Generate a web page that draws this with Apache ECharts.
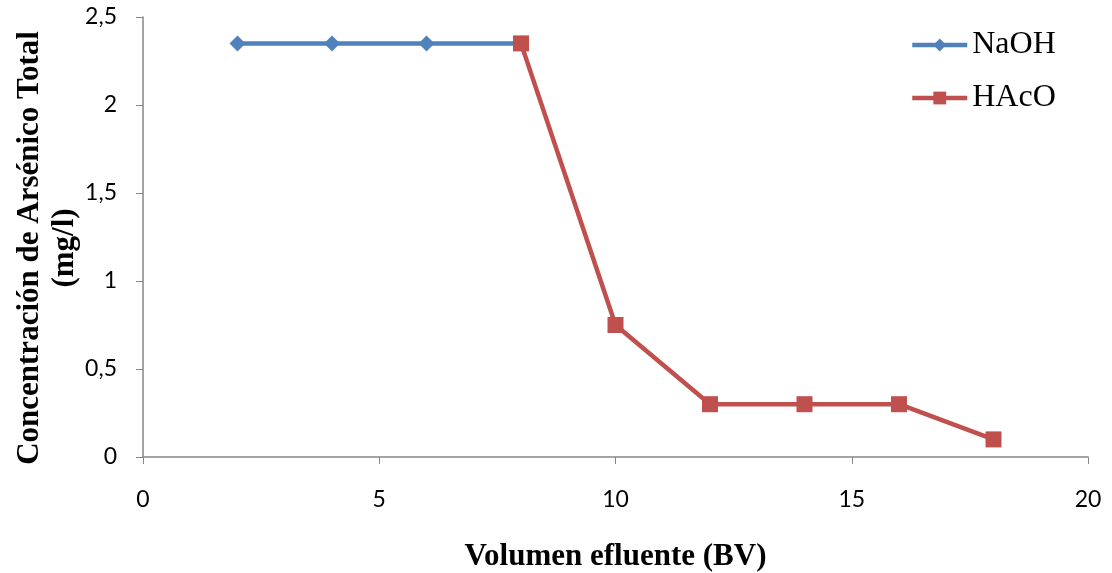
<!DOCTYPE html>
<html>
<head>
<meta charset="utf-8">
<script src="https://cdn.jsdelivr.net/npm/echarts@6/dist/echarts.min.js"></script>
<style>
  html, body { margin: 0; padding: 0; background: #ffffff; }
  #chart { width: 1112px; height: 573px; }
</style>
</head>
<body>
<div id="chart"></div>
<script>
// Volumen de efluente (BV) y concentración de arsénico total (mg/l)
const naohBV = [2, 4, 6, 8];
const naohConc = [2.35, 2.35, 2.35, 2.35];
const hacoBV = [8, 10, 12, 14, 16, 18];
const hacoConc = [2.35, 0.75, 0.3, 0.3, 0.3, 0.1];

const seriesNames = ['NaOH', 'HAcO'];
const xTitle = 'Volumen efluente (BV)';
const yTitle = 'Concentración de Arsénico Total\n(mg/l)';

const axisGray = '#868686';
const labelFont = 'Lato, "Open Sans", sans-serif';
const serifFont = '"Liberation Serif", "DejaVu Serif", serif';

function pairs(xs, ys) {
  return xs.map((x, i) => [x, ys[i]]);
}

const chart = echarts.init(document.getElementById('chart'), null, { renderer: 'canvas' });

chart.setOption({
  animation: false,
  backgroundColor: '#ffffff',
  grid: { left: 143, right: 24, top: 17, bottom: 116, containLabel: false, outerBoundsMode: 'none' },
  legend: {
    orient: 'vertical',
    left: 905,
    top: 24,
    itemWidth: 55,
    itemHeight: 16,
    itemGap: 21,
    lineStyle: { width: 4.5 },
    textStyle: { fontFamily: serifFont, fontSize: 32, color: '#000000' },
    data: seriesNames
  },
  // y-axis title, two centred lines rotated beside the axis
  graphic: [{
    type: 'text',
    x: 47,
    y: 248,
    rotation: Math.PI / 2,
    style: {
      text: yTitle,
      fontFamily: serifFont,
      fontSize: 31,
      fontWeight: 'bold',
      fill: '#000000',
      lineHeight: 35,
      align: 'center',
      verticalAlign: 'middle'
    }
  }],
  xAxis: {
    type: 'value',
    min: 0,
    max: 20,
    interval: 5,
    name: xTitle,
    nameLocation: 'middle',
    nameGap: 84,
    nameTextStyle: { fontFamily: serifFont, fontSize: 31, fontWeight: 'bold', color: '#000000' },
    axisLine: { show: true, lineStyle: { color: axisGray, width: 1.5 } },
    axisTick: { show: true, inside: false, length: 7, lineStyle: { color: axisGray, width: 1 } },
    axisLabel: { fontFamily: labelFont, fontSize: 23, color: '#000000', margin: 31 },
    splitLine: { show: false }
  },
  yAxis: {
    type: 'value',
    min: 0,
    max: 2.5,
    interval: 0.5,
    axisLine: { show: true, lineStyle: { color: axisGray, width: 1.5 } },
    axisTick: { show: true, inside: false, length: 7, lineStyle: { color: axisGray, width: 1 } },
    axisLabel: {
      fontFamily: labelFont,
      fontSize: 23,
      color: '#000000',
      margin: 26,
      formatter: v => String(v).replace('.', ',')
    },
    splitLine: { show: false }
  },
  series: [
    {
      name: seriesNames[0],
      type: 'line',
      data: pairs(naohBV, naohConc),
      symbol: 'diamond',
      symbolSize: 16,
      showAllSymbol: true,
      lineStyle: { color: '#4F81BD', width: 4.5 },
      itemStyle: { color: '#4F81BD' },
      z: 2
    },
    {
      name: seriesNames[1],
      type: 'line',
      data: pairs(hacoBV, hacoConc),
      symbol: 'rect',
      symbolSize: 16,
      showAllSymbol: true,
      lineStyle: { color: '#C0504D', width: 4.5 },
      itemStyle: { color: '#C0504D' },
      z: 3
    }
  ]
});
</script>
</body>
</html>
